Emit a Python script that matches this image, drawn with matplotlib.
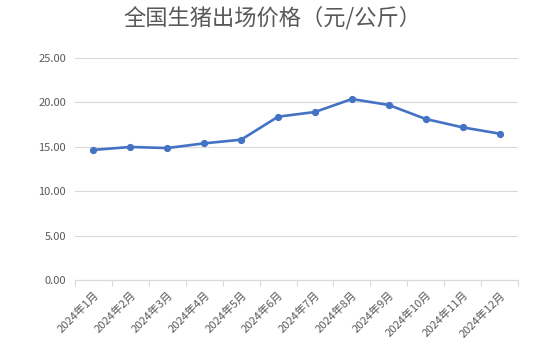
import matplotlib.pyplot as plt
import numpy as np

plt.rcParams['font.family'] = ['Noto Sans CJK SC', 'DejaVu Sans']

# 数据
months = ['2024年1月', '2024年2月', '2024年3月', '2024年4月', '2024年5月', '2024年6月',
          '2024年7月', '2024年8月', '2024年9月', '2024年10月', '2024年11月', '2024年12月']
prices = [14.65, 14.98, 14.86, 15.39, 15.80, 18.39, 18.92, 20.38, 19.71, 18.13, 17.19, 16.48]
y_ticks = [0, 5, 10, 15, 20, 25]

text_color = '#595959'
grid_color = '#d9d9d9'
line_color = '#4472c4'

fig = plt.figure(figsize=(5.45, 3.44), dpi=100)
ax = fig.add_axes([75 / 545, (344 - 280) / 344, 443 / 545, 222 / 344])

x = np.arange(len(months))
ax.plot(x, prices, color=line_color, linewidth=1.9, marker='o', markersize=4.2,
        solid_capstyle='round', zorder=3)

# 坐标轴
ax.set_xlim(-0.5, len(months) - 0.5)
ax.set_ylim(0, 25)
ax.set_yticks(y_ticks)
ax.set_yticklabels([f'{v:.2f}' for v in y_ticks], color=text_color, fontsize=8)
ax.tick_params(axis='y', length=0, pad=6.5)

# 分类边界刻度
ax.set_xticks(np.arange(len(months) + 1) - 0.5)
ax.set_xticklabels([])
ax.set_xticks(x, minor=True)
ax.set_xticklabels(months, minor=True, rotation=45, ha='right', rotation_mode='anchor',
                   color=text_color, fontsize=8)
ax.tick_params(axis='x', which='major', length=4, color=grid_color, width=0.8)
ax.tick_params(axis='x', which='minor', length=0, pad=7)

ax.grid(axis='y', color=grid_color, linewidth=0.8)
ax.set_axisbelow(True)
for side in ['top', 'right', 'left']:
    ax.spines[side].set_visible(False)
ax.spines['bottom'].set_color(grid_color)
ax.spines['bottom'].set_linewidth(0.8)

fig.text(0.5, 1 - 18 / 344, '全国生猪出场价格（元/公斤）', ha='center', va='center',
         fontsize=16, color=text_color, fontweight='light')

plt.savefig('out.png', dpi=100)
